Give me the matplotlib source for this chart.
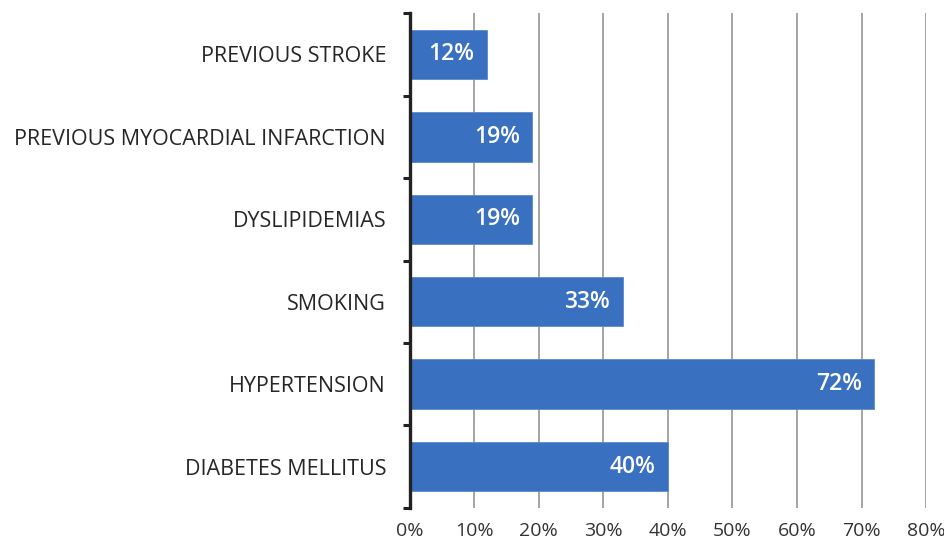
import matplotlib
matplotlib.use("Agg")
import matplotlib.pyplot as plt
import numpy as np

categories = ["DIABETES MELLITUS", "HYPERTENSION", "SMOKING", "DYSLIPIDEMIAS",
              "PREVIOUS MYOCARDIAL INFARCTION", "PREVIOUS STROKE"]
values = [40, 72, 33, 19, 19, 12]
x_ticks = [0, 10, 20, 30, 40, 50, 60, 70, 80]

plt.rcParams["font.family"] = ["Open Sans", "DejaVu Sans"]

fig = plt.figure(figsize=(9.44, 5.52), dpi=100)
ax = fig.add_axes([0.434, 0.080, 0.547, 0.896])

y = np.arange(len(categories))
bars = ax.barh(y, values, height=0.6, color="#3a70c0", edgecolor="#5b8ad0",
               linewidth=0.6, zorder=3)

for yi, v in zip(y, values):
    ax.annotate(f"{v}%", (v, yi), xytext=(-9, 0), textcoords="offset points",
                ha="right", va="center", color="white", fontsize=16.5,
                fontweight="semibold", zorder=4)

ax.set_xlim(0, 80)
ax.set_ylim(-0.5, len(categories) - 0.5)
ax.set_xticks(x_ticks)
ax.set_xticklabels([f"{t}%" for t in x_ticks], fontsize=14, color="#333333")
ax.tick_params(axis="x", length=0, pad=10)

ax.set_yticks(y)
ax.set_yticklabels(categories, fontsize=15.5, color="#262626")
ax.tick_params(axis="y", which="major", length=0, pad=17)
ax.set_yticks(np.arange(-0.5, len(categories), 1.0), minor=True)
ax.tick_params(axis="y", which="minor", length=5, width=2.2, color="#222222")

for t in x_ticks[1:]:
    ax.axvline(t, color="#8c8c8c", linewidth=1.1, zorder=1)

for s in ["top", "right", "bottom"]:
    ax.spines[s].set_visible(False)
ax.spines["left"].set_linewidth(2.4)
ax.spines["left"].set_color("#222222")
ax.spines["left"].set_zorder(5)

fig.savefig("out.png", dpi=100)
